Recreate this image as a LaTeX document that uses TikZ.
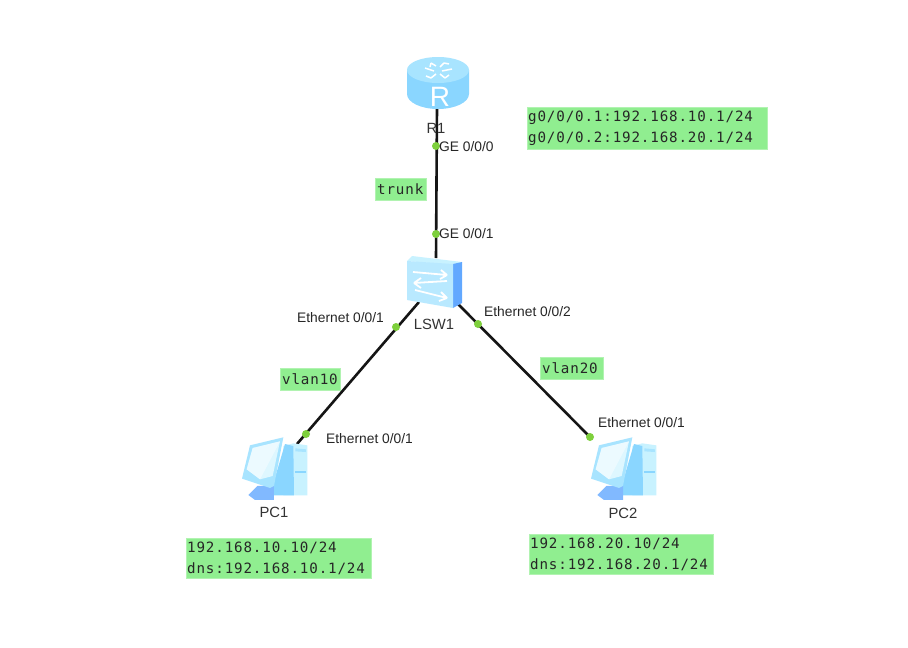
\documentclass[tikz,border=0pt]{standalone}
\usepackage{fontspec}
\setmainfont{Liberation Sans}
\newfontfamily\cfgfont{DejaVu Sans Mono}[LetterSpace=6]
\definecolor{notegreen}{HTML}{90EE90}
\definecolor{lnk}{HTML}{151515}
\definecolor{dotg}{HTML}{7ED03C}
\definecolor{icoA}{HTML}{A8E4FF}
\definecolor{icoB}{HTML}{8AD6FF}
\definecolor{icoC}{HTML}{C8F2FF}
\definecolor{icoD}{HTML}{62A8FF}
\tikzset{
 note/.style={fill=notegreen,draw=notegreen!70!white,line width=.4pt,anchor=north west,align=left,inner xsep=1pt,inner ysep=0pt,font=\cfgfont\fontsize{14.2}{20.5}\selectfont,text=black!85},
 lnkline/.style={draw=lnk,line width=2.6pt},
 portdot/.style={circle,fill=dotg,minimum size=8pt,inner sep=0pt},
 lbl/.style={font=\fontsize{13.8}{15}\selectfont,text=black!85,inner sep=0pt},
 dev/.style={font=\fontsize{14.8}{16}\selectfont,text=black!80,inner sep=0pt},
 anchorbox/.style={inner sep=0pt,minimum size=0pt},
 pics/pcicon/.style={code={
  \begin{scope}[x=0.3333pt,y=-0.3333pt]
   % tower
   \fill[icoC] (160,78)--(190,70)--(232,76)--(232,226)--(160,226)--cycle;
   \fill[icoB] (165,72)--(190,78)--(192,226)--(130,226)--(130,190)--cycle;
   \fill[icoA] (196,85)--(228,88)--(228,96)--(196,94)--cycle;
   \fill[icoB] (196,152)--(228,152)--(228,158)--(196,158)--cycle;
   % base
   \fill[icoD!80!white] (55,225)--(82,198)--(132,198)--(132,240)--(75,240)--cycle;
   % monitor
   \fill[icoA] (36,176)--(60,76)--(160,52)--(132,198)--(120,204)--cycle;
   \fill[icoC!60!white] (50,148)--(68,84)--(150,64)--(128,168)--(90,178)--cycle;
   \fill[white,opacity=.45] (50,148)--(68,84)--(150,64)--(90,178)--cycle;
  \end{scope}
 }}
}
\begin{document}
\begin{tikzpicture}[x=1pt,y=-1pt]
\useasboundingbox[fill=white] (0,0) rectangle (908,648);
% device anchors for connectors
\node[anchorbox] (r1) at (437,108) {};
\node[anchorbox] (swtop) at (436,258) {};
\node[anchorbox] (swbl) at (419,302) {};
\node[anchorbox] (swbr) at (457,303) {};
\node[anchorbox] (pc1) at (297,444) {};
\node[anchorbox] (pc2) at (592,439) {};
% connectors
\draw[lnkline] (r1.center) -- (swtop.center);
\draw[lnkline] (swbl.center) -- (pc1.center);
\draw[lnkline] (swbr.center) -- (pc2.center);
% router
\fill[icoB] (407,70) -- (407,94) arc[start angle=180,end angle=0,x radius=31,y radius=15] -- (469,70) -- cycle;
\fill[icoA] (438,70) ellipse[x radius=31,y radius=13];
\draw[white,line width=1.5pt] (431,63)--(436,66) (431,63)--(430,67) (444,63)--(440,67) (444,63)--(449,64)
 (431,78)--(436,74) (431,78)--(426,76) (445,78)--(440,74) (445,78)--(449,75) (425,68)--(434,71) (442,71)--(452,69);
\node[font=\fontsize{28}{28}\selectfont,text=white,inner sep=0pt] (rlet) at (440,97) {R};
% switch
\fill[icoC] (407,261)--(412,256)--(462,262)--(453,265)--cycle;
\fill[icoD] (453,264)--(462,262)--(462,303)--(453,308)--cycle;
\fill[icoA!80!white] (407,261)--(453,264)--(453,308)--(407,300)--cycle;
\draw[white,line width=1.8pt] (413,272)--(447,275) (447,275)--(441,270) (447,275)--(440,279);
\draw[white,line width=1.8pt] (414,283)--(447,281) (414,283)--(421,278) (414,283)--(421,288);
\draw[white,line width=1.8pt] (415,290)--(447,298) (447,298)--(441,292) (447,298)--(439,301);
% PCs
\pic at (230,420) {pcicon};
\pic at (579,420) {pcicon};
% port dots
\node[portdot] (d1) at (436,146) {};
\node[portdot] (d2) at (436,234) {};
\node[portdot] (d3) at (396,327) {};
\node[portdot] (d4) at (478,324) {};
\node[portdot] (d5) at (306,434) {};
\node[portdot] (d6) at (590,437) {};
% labels
\node[dev] (t1) at (436,128) {R1};
\node[dev] (t2) at (434,324) {LSW1};
\node[dev] (t3) at (274,512) {PC1};
\node[dev] (t4) at (623,513) {PC2};
\node[lbl,anchor=west] (p1) at (439,147) {GE 0/0/0};
\node[lbl,anchor=west] (p2) at (439,234) {GE 0/0/1};
\node[lbl,anchor=west] (p3) at (297,318) {Ethernet 0/0/1};
\node[lbl,anchor=west] (p4) at (484,312) {Ethernet 0/0/2};
\node[lbl,anchor=west] (p5) at (326,439) {Ethernet 0/0/1};
\node[lbl,anchor=west] (p6) at (598,423) {Ethernet 0/0/1};
% notes
\node[note,text width=238pt,minimum height=42pt] (n1) at (527,107) {g0/0/0.1:192.168.10.1/24\\g0/0/0.2:192.168.20.1/24};
\node[note,text width=47pt,inner xsep=2pt,minimum height=22pt] (n2) at (375,178) {trunk};
\node[note,text width=56pt,inner xsep=2pt,minimum height=22pt] (n3) at (280,368) {vlan10};
\node[note,text width=59pt,inner xsep=2pt,minimum height=22pt] (n4) at (540,357) {vlan20};
\node[note,text width=183pt,minimum height=40pt] (n5) at (186,538) {192.168.10.10/24\\dns:192.168.10.1/24};
\node[note,text width=182pt,minimum height=40pt] (n6) at (529,534) {192.168.20.10/24\\dns:192.168.20.1/24};
\end{tikzpicture}
\end{document}
